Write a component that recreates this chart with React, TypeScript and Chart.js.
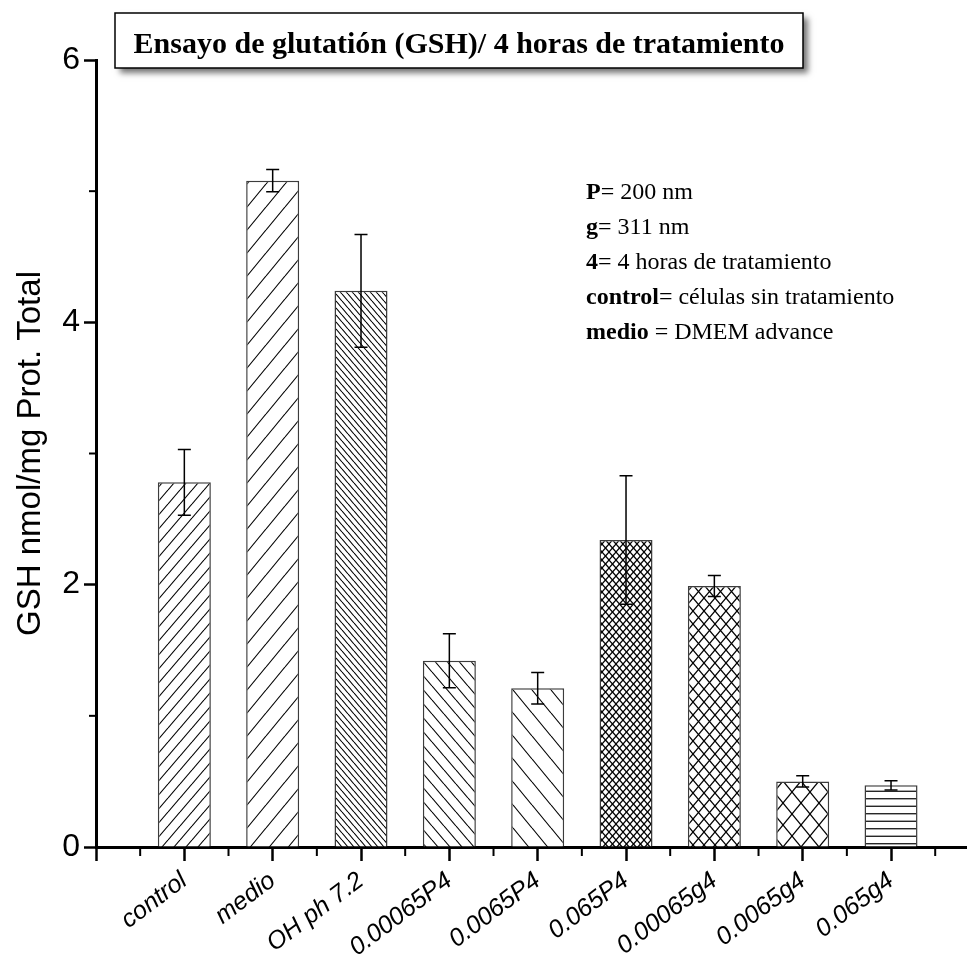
import React, { useEffect, useRef } from 'react';
import { Chart, registerables } from 'chart.js';

Chart.register(...registerables);

// ---------- data ----------
const categories = ['control', 'medio', 'OH ph 7.2', '0.00065P4', '0.0065P4', '0.065P4', '0.00065g4', '0.0065g4', '0.065g4'];
const values = [2.78, 5.08, 4.24, 1.42, 1.21, 2.34, 1.99, 0.50, 0.47];
const errors = [0.25, 0.085, 0.43, 0.205, 0.12, 0.49, 0.08, 0.043, 0.035];
const yTickValues = [0, 2, 4, 6];
const yMinorTickValues = [1, 3, 5];
const xTickValues = [0, 1, 2, 3, 4, 5, 6, 7, 8, 9];
const xMinorTickValues = [0.5, 1.5, 2.5, 3.5, 4.5, 5.5, 6.5, 7.5, 8.5, 9.5];
const titleText = 'Ensayo de glutatión (GSH)/ 4 horas de tratamiento';
const yTitle = 'GSH nmol/mg Prot. Total';
const noteLines: [string, string][] = [
  ['P', '= 200 nm'],
  ['g', '= 311 nm'],
  ['4', '= 4 horas de tratamiento'],
  ['control', '= células sin tratamiento'],
  ['medio', ' = DMEM advance'],
];

// ---------- styles ----------
const X_MAX = 9.86;
const patternSpecs = [
  { kind: 'fwd', w: 12, h: 14 },
  { kind: 'fwd', w: 19, h: 23 },
  { kind: 'back', w: 6, h: 7 },
  { kind: 'back', w: 12, h: 14 },
  { kind: 'back', w: 19, h: 23 },
  { kind: 'cross', w: 7, h: 8 },
  { kind: 'cross', w: 11, h: 13 },
  { kind: 'cross', w: 18, h: 22 },
  { kind: 'horiz', w: 4, h: 15 },
];

function makePattern(ctx: CanvasRenderingContext2D, spec: { kind: string; w: number; h: number }) {
  const { kind, w, h } = spec;
  const c = document.createElement('canvas');
  c.width = w;
  c.height = h;
  const g = c.getContext('2d')!;
  g.fillStyle = '#fff';
  g.fillRect(0, 0, w, h);
  g.strokeStyle = '#000';
  g.lineWidth = kind === 'cross' ? 1.25 : 1.1;
  const fwd = () => {
    for (const dx of [-w, 0, w]) {
      g.beginPath();
      g.moveTo(dx, h);
      g.lineTo(dx + w, 0);
      g.stroke();
    }
  };
  const back = () => {
    for (const dx of [-w, 0, w]) {
      g.beginPath();
      g.moveTo(dx, 0);
      g.lineTo(dx + w, h);
      g.stroke();
    }
  };
  if (kind === 'fwd') fwd();
  else if (kind === 'back') back();
  else if (kind === 'cross') {
    fwd();
    back();
  } else if (kind === 'horiz') {
    g.lineWidth = 1.2;
    for (const yy of [3.75, 11.25]) {
      g.beginPath();
      g.moveTo(0, yy);
      g.lineTo(w, yy);
      g.stroke();
    }
  }
  return ctx.createPattern(c, 'repeat')!;
}

const overlayPlugin = {
  id: 'overlay',
  afterDatasetsDraw(chart: any) {
    const { ctx, scales } = chart;
    const x = scales.x;
    const y = scales.y;
    ctx.save();
    ctx.strokeStyle = '#000';
    ctx.lineWidth = 1.5;
    values.forEach((v, i) => {
      const px = x.getPixelForValue(i + 1);
      const top = y.getPixelForValue(v + errors[i]);
      const bot = y.getPixelForValue(v - errors[i]);
      ctx.beginPath();
      ctx.moveTo(px, top);
      ctx.lineTo(px, bot);
      ctx.moveTo(px - 6.5, top);
      ctx.lineTo(px + 6.5, top);
      ctx.moveTo(px - 6.5, bot);
      ctx.lineTo(px + 6.5, bot);
      ctx.stroke();
    });
    ctx.restore();
  },
  afterDraw(chart: any) {
    const { ctx, scales, chartArea } = chart;
    const x = scales.x;
    const y = scales.y;
    ctx.save();
    // minor ticks
    ctx.strokeStyle = '#000';
    ctx.lineWidth = 2;
    xMinorTickValues.forEach((v) => {
      const px = x.getPixelForValue(v);
      ctx.beginPath();
      ctx.moveTo(px, chartArea.bottom);
      ctx.lineTo(px, chartArea.bottom + 9);
      ctx.stroke();
    });
    yMinorTickValues.forEach((v) => {
      const py = y.getPixelForValue(v);
      ctx.beginPath();
      ctx.moveTo(chartArea.left - 7, py);
      ctx.lineTo(chartArea.left, py);
      ctx.stroke();
    });

    // title box
    const bx = 115, by = 13, bw = 688, bh = 55;
    ctx.save();
    ctx.shadowColor = 'rgba(0,0,0,0.55)';
    ctx.shadowBlur = 6;
    ctx.shadowOffsetX = 5;
    ctx.shadowOffsetY = 5;
    ctx.fillStyle = '#fff';
    ctx.fillRect(bx, by, bw, bh);
    ctx.restore();
    ctx.strokeStyle = '#000';
    ctx.lineWidth = 1.5;
    ctx.strokeRect(bx, by, bw, bh);
    ctx.fillStyle = '#000';
    ctx.font = 'bold 30px "Liberation Serif"';
    ctx.textAlign = 'center';
    ctx.textBaseline = 'alphabetic';
    ctx.fillText(titleText, bx + bw / 2, 53);

    // notes
    ctx.textAlign = 'left';
    noteLines.forEach(([b, r], i) => {
      const yy = 199 + i * 35;
      let xx = 586;
      ctx.font = 'bold 24px "Liberation Serif"';
      ctx.fillText(b, xx, yy);
      xx += ctx.measureText(b).width;
      ctx.font = '24px "Liberation Serif"';
      ctx.fillText(r, xx, yy);
    });
    ctx.restore();
  },
};

export default function App() {
  const ref = useRef<HTMLCanvasElement>(null);
  useEffect(() => {
    document.body.style.margin = '0';
    const canvas = ref.current!;
    const ctx = canvas.getContext('2d')!;
    const patterns = patternSpecs.map((s) => makePattern(ctx, s));
    const chart = new Chart(canvas, {
      type: 'bar',
      data: {
        datasets: [
          {
            data: values.map((v, i) => ({ x: i + 1, y: v })),
            backgroundColor: patterns,
            borderColor: '#3c3c3c',
            borderWidth: 1.5,
            categoryPercentage: 1,
            barPercentage: 0.6,
          } as any,
        ],
      },
      options: {
        responsive: false,
        animation: false,
        devicePixelRatio: 1,
        layout: { padding: { top: 60, left: 0, right: 0, bottom: 0 } },
        plugins: {
          legend: { display: false },
          tooltip: { enabled: false },
          title: { display: false },
        },
        scales: {
          x: {
            type: 'linear',
            min: 0,
            max: X_MAX,
            offset: false,
            z: 1,
            afterBuildTicks: (s: any) => {
              s.ticks = xTickValues.map((v) => ({ value: v }));
            },
            afterFit: (s: any) => {
              s.height = 108;
            },
            ticks: {
              autoSkip: false,
              minRotation: 37,
              maxRotation: 37,
              padding: 5,
              color: '#000',
              font: { family: 'Liberation Sans', size: 25, style: 'italic' },
              callback: (v: any) => categories[v - 1] ?? '',
            },
            grid: {
              display: true,
              offset: false,
              drawOnChartArea: false,
              drawTicks: true,
              tickLength: 14,
              tickWidth: 2.5,
              tickColor: '#000',
            },
            border: { display: true, color: '#000', width: 3 },
          },
          y: {
            type: 'linear',
            min: 0,
            max: 6,
            afterBuildTicks: (s: any) => {
              s.ticks = yTickValues.map((v) => ({ value: v }));
            },
            afterFit: (s: any) => {
              s.width = 96;
            },
            ticks: {
              padding: 4,
              color: '#000',
              font: { family: 'Liberation Sans', size: 32 },
            },
            grid: {
              display: true,
              drawOnChartArea: false,
              drawTicks: true,
              tickLength: 12,
              tickWidth: 2.5,
              tickColor: '#000',
            },
            border: { display: true, color: '#000', width: 3 },
            title: {
              display: true,
              text: yTitle,
              color: '#000',
              font: { family: 'Liberation Sans', size: 33 },
              padding: { top: 11, bottom: 0 },
            },
          },
        },
      } as any,
      plugins: [overlayPlugin],
    });
    return () => chart.destroy();
  }, []);
  return (
    <div style={{ width: 967, height: 955, background: '#fff' }}>
      <canvas ref={ref} width={967} height={955} style={{ display: 'block' }} />
    </div>
  );
}
